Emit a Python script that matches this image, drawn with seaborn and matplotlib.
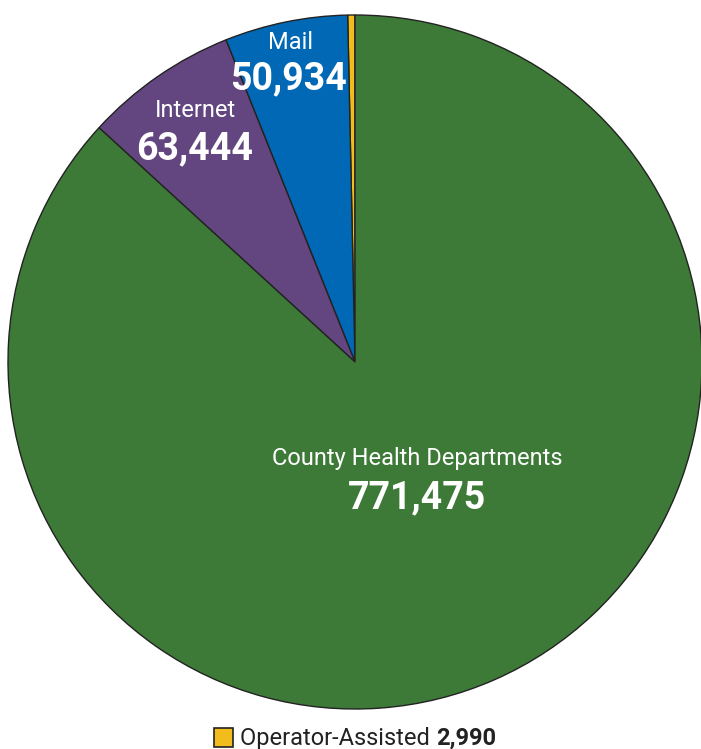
import matplotlib
matplotlib.use("Agg")
import matplotlib.pyplot as plt
import matplotlib.patches as mpatches
import seaborn as sns

# DATA
categories = ["Operator-Assisted", "Mail", "Internet", "County Health Departments"]
values = [2990, 50934, 63444, 771475]
colors = ["#f2bd1c", "#0068b4", "#63467f", "#3d7a37"]

sns.set_theme(style="white")
plt.rcParams["font.family"] = ["Roboto", "DejaVu Sans"]

fig = plt.figure(figsize=(7.01, 7.49), dpi=100)
ax = fig.add_axes([8 / 701, 40 / 749, 694 / 701, 694 / 749])

ax.pie(values, colors=colors, startangle=90, counterclock=True, radius=1,
       wedgeprops=dict(edgecolor="#222222", linewidth=1.0))
ax.set_xlim(-1, 1)
ax.set_ylim(-1, 1)
ax.set_aspect("equal")
ax.axis("off")

# slice labels (name + value)
labels = {
    "Mail": ((-0.187, 0.922), (-0.193, 0.815)),
    "Internet": ((-0.461, 0.726), (-0.461, 0.615)),
    "County Health Departments": ((0.179, -0.277), (0.179, -0.392)),
}
for name, (p_name, p_val) in labels.items():
    v = values[categories.index(name)]
    ax.text(*p_name, name, color="white", fontsize=17, ha="center", va="center")
    ax.text(*p_val, f"{v:,}", color="white", fontsize=27, fontweight="bold",
            ha="center", va="center")

# legend for the tiny slice
sq = mpatches.Rectangle((214 / 701, 1 - 747 / 749), 19 / 701, 19 / 749,
                        transform=fig.transFigure, facecolor=colors[0],
                        edgecolor="#222222", linewidth=1.2)
fig.patches.append(sq)
t1 = fig.text(240 / 701, 1 - 738 / 749, categories[0] + " ", fontsize=17,
              color="#222222", va="center", ha="left")
fig.canvas.draw()
bb = t1.get_window_extent()
fig.text(bb.x1 / fig.bbox.width, 1 - 738 / 749, f"{values[0]:,}", fontsize=17,
         fontweight="bold", color="#222222", va="center", ha="left")

fig.savefig("out.png", dpi=100)
